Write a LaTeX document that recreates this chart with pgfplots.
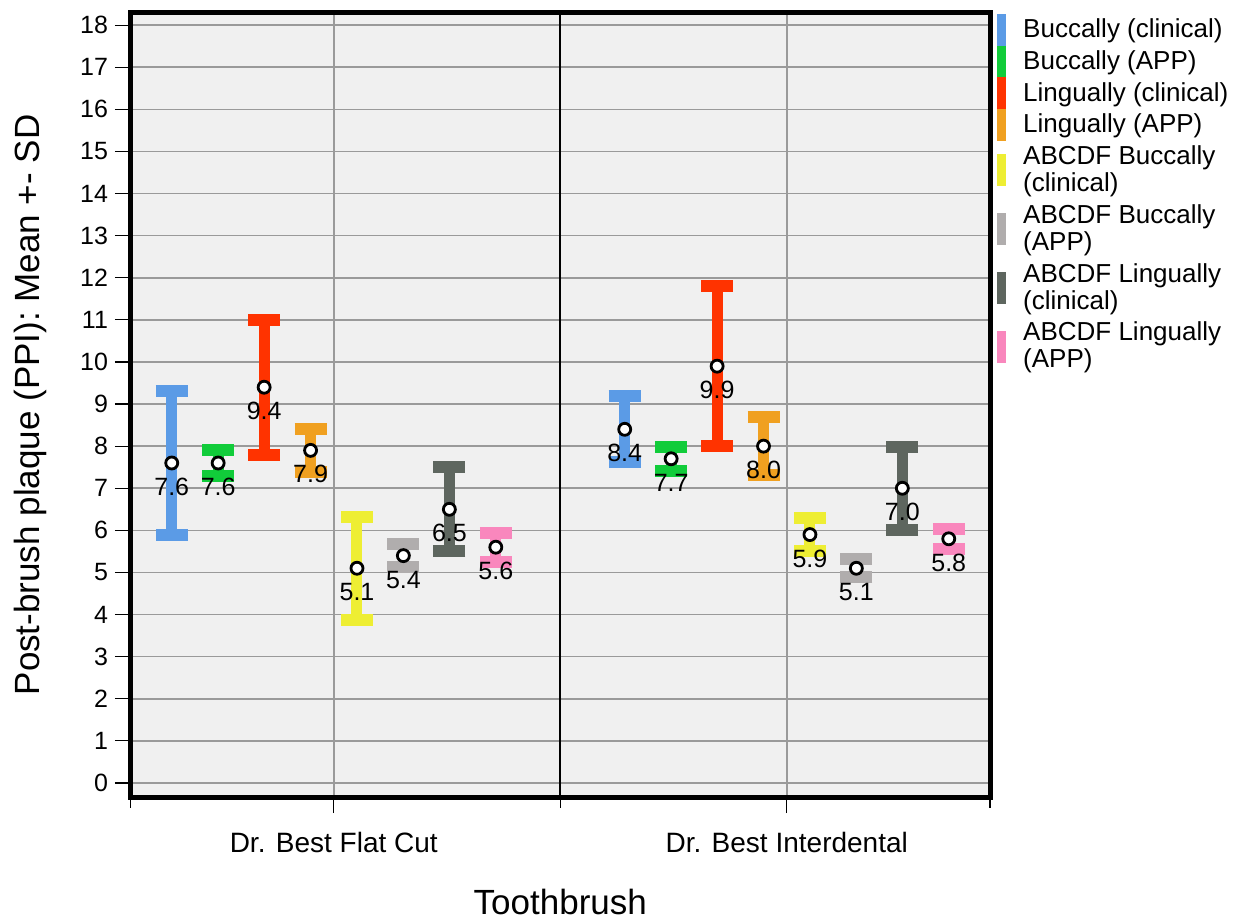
\documentclass[border=0pt]{standalone}
\usepackage{fontspec}
\setmainfont{Liberation Sans}
\usepackage{pgfplots}
\pgfplotsset{compat=1.18}
\usepackage{pgfplotstable}

\definecolor{cBlue}{HTML}{5B9BE6}
\definecolor{cGreen}{HTML}{11CC3A}
\definecolor{cRed}{HTML}{FF3300}
\definecolor{cOrange}{HTML}{F0A020}
\definecolor{cYellow}{HTML}{EEEE33}
\definecolor{cLGray}{HTML}{B0ADAD}
\definecolor{cDGray}{HTML}{5E665F}
\definecolor{cPink}{HTML}{F987BD}
\definecolor{bgc}{HTML}{F0F0F0}
\definecolor{gcol}{HTML}{9A9A9A}

% x = position, y = mean, e = SD
\pgfplotstableread{
x y e
0.096 7.6 1.72
1.150 8.4 0.78
}\tblA
\pgfplotstableread{
x y e
0.204 7.6 0.32
1.258 7.7 0.28
}\tblB
\pgfplotstableread{
x y e
0.311 9.4 1.60
1.365 9.9 1.90
}\tblC
\pgfplotstableread{
x y e
0.419 7.9 0.51
1.473 8.0 0.69
}\tblD
\pgfplotstableread{
x y e
0.527 5.1 1.22
1.581 5.9 0.40
}\tblE
\pgfplotstableread{
x y e
0.635 5.4 0.28
1.689 5.1 0.21
}\tblF
\pgfplotstableread{
x y e
0.742 6.5 1.00
1.796 7.0 0.99
}\tblG
\pgfplotstableread{
x y e
0.850 5.6 0.34
1.904 5.8 0.24
}\tblH

\pgfplotsset{
  ebstyle/.style={color=#1, only marks, mark=*, mark size=3pt,
    mark options={draw=black, fill=white, line width=1.4pt, solid},
    error bars/.cd, y dir=both, y explicit,
    error bar style={line width=5.5pt, color=#1},
    error mark options={rotate=90, line width=6pt, mark size=8pt, color=#1}},
}

\begin{document}
\begin{tikzpicture}
\useasboundingbox (-65.25pt,-61.25pt) rectangle (551.75pt,398.75pt);
\begin{axis}[
  at={(0,0)}, anchor=south west,
  scale only axis, width=429.75pt, height=392.5pt,
  xmin=0, xmax=2, ymin=-0.345, ymax=18.3,
  axis background/.style={fill=bgc},
  axis line style={line width=2.5pt, black},
  tick pos=left, tick align=outside,
  major tick length=7.75pt, minor tick length=5pt,
  tick style={black, line width=0.6pt},
  ytick={0,1,...,18},
  xtick={0.473,1.527},
  xticklabels={Dr. Best Flat Cut, Dr. Best Interdental},
  minor xtick={0,2},
  extra x ticks={1}, extra x tick labels={},
  extra x tick style={grid style={black, line width=1.2pt}, major tick length=5pt},
  ymajorgrids, xmajorgrids,
  grid style={gcol, line width=0.8pt},
  /pgf/number format/assume math mode=true,
  yticklabel style={font=\fontsize{12.5}{14}\selectfont},
  xticklabel style={font=\fontsize{14}{16}\selectfont, anchor=base, yshift=-19.5pt},
  xlabel={Toothbrush},
  ylabel={Post-brush plaque (PPI): Mean +- SD},
  xlabel style={font=\fontsize{17.5}{20}\selectfont, at={(axis description cs:0.5,-0.1331)}, anchor=center},
  ylabel style={font=\fontsize{17.5}{20}\selectfont, at={(axis description cs:-0.1169,0.5)}, anchor=center},
  nodes near coords={\pgfmathprintnumber[fixed,fixed zerofill,precision=1]{\pgfplotspointmeta}},
  point meta=y,
  every node near coord/.append style={font=\fontsize{12.5}{14}\selectfont, text=black, anchor=center, yshift=-12pt},
  legend image code/.code={\fill[#1, overlay] (0pt,-7.75pt) rectangle (4pt,7.75pt); \path (0pt,-1pt) rectangle (4pt,1pt);},
  legend style={at={(axis description cs:1,1)}, xshift=3.5pt, yshift=-1pt, anchor=north west,
    draw=none, fill=none, inner sep=0pt, row sep=0.95pt,
    font=\fontsize{13}{13.5}\selectfont,
    cells={anchor=west, align=left, inner sep=0pt},
    /tikz/every odd column/.append style={column sep=6.5pt}},
]
\addplot[ebstyle=cBlue] table[x=x, y=y, y error=e] {\tblA};
\addlegendentry{Buccally (clinical)}
\addplot[ebstyle=cGreen] table[x=x, y=y, y error=e] {\tblB};
\addlegendentry{Buccally (APP)}
\addplot[ebstyle=cRed] table[x=x, y=y, y error=e] {\tblC};
\addlegendentry{Lingually (clinical)}
\addplot[ebstyle=cOrange] table[x=x, y=y, y error=e] {\tblD};
\addlegendentry{Lingually (APP)}
\addplot[ebstyle=cYellow] table[x=x, y=y, y error=e] {\tblE};
\addlegendentry{ABCDF Buccally\\(clinical)}
\addplot[ebstyle=cLGray] table[x=x, y=y, y error=e] {\tblF};
\addlegendentry{ABCDF Buccally\\(APP)}
\addplot[ebstyle=cDGray] table[x=x, y=y, y error=e] {\tblG};
\addlegendentry{ABCDF Lingually\\(clinical)}
\addplot[ebstyle=cPink] table[x=x, y=y, y error=e] {\tblH};
\addlegendentry{ABCDF Lingually\\(APP)}
\end{axis}
\end{tikzpicture}
\end{document}
